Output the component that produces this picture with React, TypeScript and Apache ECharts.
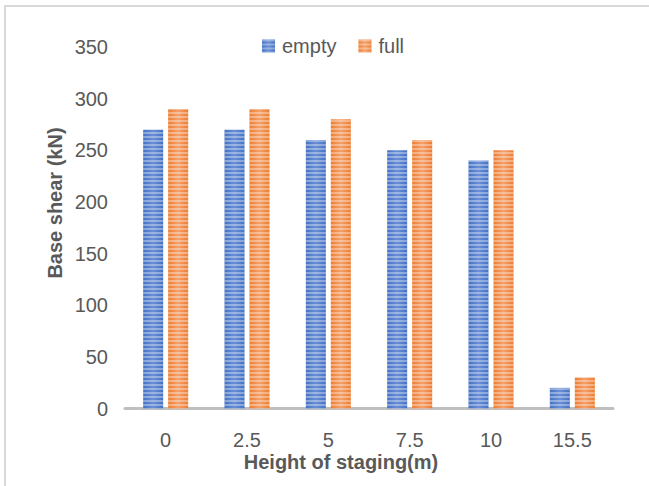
import React, { useEffect, useRef } from "react";
import * as echarts from "echarts";

const categories = ["0", "2.5", "5", "7.5", "10", "15.5"];
const emptyValues = [270, 270, 260, 250, 240, 20];
const fullValues = [290, 290, 280, 260, 250, 30];
const yTicks = { min: 0, max: 350, interval: 50 };
const xTitle = "Height of staging(m)";
const yTitle = "Base shear (kN)";

const FONT = "'Liberation Sans', Arial, sans-serif";
const TXT = "#595959";

function grad(edge: string, mid: string) {
  return new echarts.graphic.LinearGradient(0, 0, 1, 0, [
    { offset: 0, color: edge },
    { offset: 0.5, color: mid },
    { offset: 1, color: edge },
  ]);
}

const stripe = {
  symbol: "rect",
  symbolSize: 1,
  color: "rgba(255,255,255,0.35)",
  dashArrayX: [1, 0],
  dashArrayY: [2, 2],
  rotation: 0,
};

export default function App() {
  const ref = useRef<HTMLDivElement>(null);
  useEffect(() => {
    if (!ref.current) return;
    const chart = echarts.init(ref.current, null, { renderer: "svg" });
    chart.setOption({
      animation: false,
      backgroundColor: "#ffffff",
      textStyle: { fontFamily: FONT },
      legend: {
        left: 257,
        top: 31,
        itemWidth: 13,
        itemHeight: 13,
        itemGap: 22,
        icon: "rect",
        textStyle: { fontFamily: FONT, fontSize: 20, color: TXT, padding: [0, 0, 0, 2] },
        data: ["empty", "full"],
      },
      grid: { left: 125, right: 36, top: 47, bottom: 77.5 },
      xAxis: {
        type: "category",
        data: categories,
        axisTick: { show: false },
        axisLine: { lineStyle: { color: "#bfbfbf", width: 3 } },
        axisLabel: { margin: 21, fontFamily: FONT, fontSize: 20, color: TXT },
      },
      yAxis: {
        type: "value",
        min: yTicks.min,
        max: yTicks.max,
        interval: yTicks.interval,
        axisLine: { show: false },
        axisTick: { show: false },
        splitLine: { show: false },
        axisLabel: { margin: 17, fontFamily: FONT, fontSize: 20, color: TXT },
      },
      graphic: [
        {
          type: "line",
          shape: { x1: 4, y1: 6, x2: 649, y2: 6 },
          style: { stroke: "#d9d9d9", lineWidth: 2 },
        },
        {
          type: "line",
          shape: { x1: 5, y1: 5, x2: 5, y2: 486 },
          style: { stroke: "#d9d9d9", lineWidth: 2 },
        },
        {
          type: "text",
          x: 55,
          y: 203,
          rotation: Math.PI / 2,
          style: {
            text: yTitle,
            fontFamily: FONT,
            fontSize: 20,
            fontWeight: "bold",
            fill: TXT,
            align: "center",
            verticalAlign: "middle",
          },
        },
        {
          type: "text",
          x: 341,
          y: 462,
          style: {
            text: xTitle,
            fontFamily: FONT,
            fontSize: 20,
            fontWeight: "bold",
            fill: TXT,
            align: "center",
            verticalAlign: "middle",
          },
        },
      ],
      series: [
        {
          name: "empty",
          type: "bar",
          data: emptyValues,
          barWidth: 20,
          barGap: "25%",
          itemStyle: { color: grad("#4472c4", "#6a8fd6"), decal: stripe },
        },
        {
          name: "full",
          type: "bar",
          data: fullValues,
          barWidth: 20,
          barGap: "25%",
          itemStyle: { color: grad("#ed7d31", "#f4a06a"), decal: stripe },
        },
      ],
    });
    return () => chart.dispose();
  }, []);
  return (
    <div
      ref={ref}
      style={{ position: "absolute", left: 0, top: 0, width: 649, height: 486 }}
    />
  );
}
